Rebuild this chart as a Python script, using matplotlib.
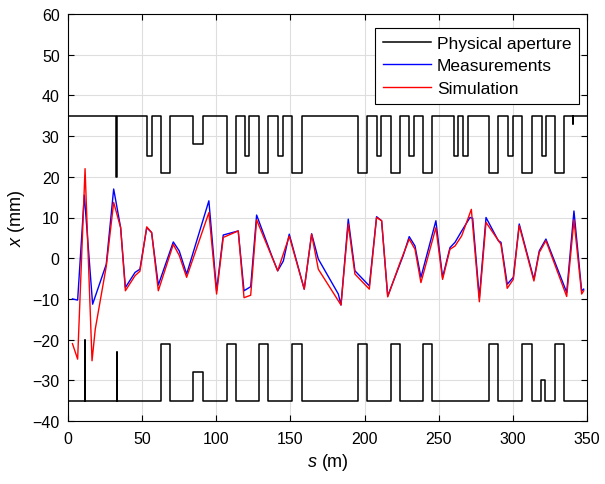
import numpy as np
import matplotlib
matplotlib.use("Agg")
import matplotlib.pyplot as plt

plt.rcParams['font.family'] = ['Liberation Sans', 'DejaVu Sans']
plt.rcParams['mathtext.fontset'] = 'custom'
plt.rcParams['mathtext.it'] = 'Liberation Sans:italic'
plt.rcParams['mathtext.rm'] = 'Liberation Sans'

# ---- Physical aperture (step profile) ----
upper_base = 35
upper_dips = [  # (s_start, s_end, x)
    (32.7, 33.0, 20), (53.0, 56.4, 25), (62.5, 68.8, 21), (84.5, 91.2, 28),
    (107.0, 113.3, 21), (119.4, 122.3, 25), (129.0, 135.1, 21), (141.8, 144.8, 25),
    (151.3, 157.6, 21), (195.3, 201.4, 21), (208.2, 211.1, 25), (217.8, 223.9, 21),
    (230.1, 233.3, 25), (239.6, 245.7, 21), (260.5, 263.2, 25), (266.6, 269.5, 25),
    (283.9, 290.2, 21), (296.9, 299.8, 25), (306.3, 312.6, 21), (319.4, 322.3, 25),
    (328.4, 334.7, 21), (340.7, 340.8, 33),
]
lower_base = -35
lower_start = -17.5
lower_bumps = [
    (11.2, 11.4, -20), (33.0, 33.2, -23), (62.5, 68.8, -21), (84.5, 91.2, -28),
    (107.0, 113.3, -21), (129.0, 135.1, -21), (151.3, 157.6, -21), (195.3, 201.4, -21),
    (217.8, 223.9, -21), (239.6, 245.7, -21), (283.9, 290.2, -21), (306.3, 312.6, -21),
    (318.7, 322.0, -30), (328.4, 334.7, -21),
]
s_end = 350

# ---- Orbit data ----
s_meas = [3.0, 6.5, 11.0, 16.6, 25.8, 30.8, 35.5, 38.7, 45.2, 48.5, 53.1, 56.4, 60.9,
          71.0, 75.0, 80.0, 95.0, 100.2, 104.7, 114.8, 118.7, 123.2, 127.2, 137.4,
          141.4, 145.2, 149.2, 159.3, 164.3, 168.8, 182.3, 184.1, 189.0, 193.5, 203.2,
          208.1, 211.5, 215.6, 226.0, 230.1, 234.0, 238.0, 248.1, 252.6, 257.6, 261.0,
          265.5, 271.1, 272.9, 277.4, 281.9, 290.2, 292.0, 296.2, 300.3, 304.3, 314.2,
          317.8, 322.3, 336.3, 341.2, 346.4, 347.8]
x_meas = [-10.0, -10.3, 15.5, -11.3, -1.5, 17.0, 7.5, -7.2, -3.5, -2.7, 7.5, 6.3, -6.6,
          4.0, 1.8, -3.9, 14.1, -8.0, 5.7, 6.7, -8.0, -7.0, 10.6, 0.6,
          -3.1, -0.7, 5.9, -7.6, 6.0, -0.2, -8.8, -11.5, 9.6, -3.1, -6.8,
          10.2, 9.2, -9.3, 0.6, 5.3, 3.0, -4.7, 9.2, -4.7, 2.6, 3.9,
          6.7, 10.0, 9.8, -9.7, 10.0, 4.3, 3.9, -6.4, -4.7, 8.4, -5.2,
          1.8, 4.7, -8.4, 11.6, -8.0, -7.6]

s_sim = [3.0, 6.5, 11.5, 16.2, 18.4, 25.8, 30.8, 35.5, 38.7, 45.2, 48.5, 53.1, 56.4, 60.9,
         71.0, 75.0, 80.0, 95.0, 100.2, 104.7, 114.8, 118.7, 123.2, 127.2, 141.4,
         149.2, 159.3, 164.3, 168.8, 184.1, 189.0, 193.5, 203.2, 208.1, 211.5, 215.6,
         223.9, 230.1, 234.0, 238.0, 248.1, 252.6, 257.6, 261.0, 265.5, 272.0, 277.4,
         281.9, 292.0, 296.2, 300.3, 304.3, 314.2, 317.8, 322.3, 336.3, 341.2, 346.4, 347.8]
x_sim = [-21.0, -24.8, 22.0, -25.2, -17.4, -2.0, 13.7, 7.5, -8.0, -4.3, -3.2, 7.7, 6.3, -8.0,
         3.4, 0.7, -4.7, 11.2, -8.8, 5.1, 6.7, -9.7, -9.1, 9.4, -3.1,
         5.4, -7.6, 5.9, -2.7, -11.5, 8.4, -3.9, -7.6, 10.0, 9.2, -9.5,
         -1.1, 4.7, 2.2, -6.0, 7.5, -5.2, 2.2, 3.0, 5.5, 12.0, -10.7,
         8.8, 3.4, -7.4, -5.2, 8.0, -5.6, 1.4, 4.3, -9.4, 9.4, -8.8, -8.0]

x_ticks = [0, 50, 100, 150, 200, 250, 300, 350]
y_ticks = [-40, -30, -20, -10, 0, 10, 20, 30, 40, 50, 60]


def step_profile(base, segs, start_val=None):
    s, x = [0.0], [base if start_val is None else start_val]
    if start_val is not None:
        s += [0.3, 0.3]
        x += [start_val, base]
    for a, b, v in segs:
        s += [a, a, b, b]
        x += [base, v, v, base]
    s.append(s_end)
    x.append(base)
    return s, x


fig = plt.figure(figsize=(6.05, 4.85), dpi=100)
ax = fig.add_axes([68 / 605, 1 - 422 / 485, 519 / 605, 407 / 485])

su, xu = step_profile(upper_base, upper_dips)
sl, xl = step_profile(lower_base, lower_bumps, lower_start)
ax.plot(su, xu, color='black', lw=1.1, label='Physical aperture')
ax.plot(sl, xl, color='black', lw=1.1)
ax.plot(s_meas, x_meas, color='#0000ff', lw=1.0, label='Measurements')
ax.plot(s_sim, x_sim, color='#ff0000', lw=1.0, label='Simulation')

ax.set_xlim(0, 350)
ax.set_ylim(-40, 60)
ax.set_xticks(x_ticks)
ax.set_yticks(y_ticks)
ax.grid(True, color='#dedede', lw=0.8)
ax.set_axisbelow(True)
ax.tick_params(direction='in', top=True, right=True, labelsize=11.5, length=4, width=0.8)
ax.tick_params(axis='x', pad=7)
ax.tick_params(axis='y', pad=6)
for sp in ax.spines.values():
    sp.set_linewidth(0.8)
ax.set_xlabel(r'$s$ (m)', fontsize=13, labelpad=4)
ax.set_ylabel(r'$x$ (mm)', fontsize=13, labelpad=4)

leg = ax.legend(loc='upper right', bbox_to_anchor=(0.9846, 0.9656), borderaxespad=0,
                fontsize=12.5, fancybox=False, edgecolor='black', framealpha=1,
                handlelength=2.8, handletextpad=0.3, labelspacing=0.42, borderpad=0.45)
leg.get_frame().set_linewidth(0.8)

fig.savefig('out.png', dpi=100)
